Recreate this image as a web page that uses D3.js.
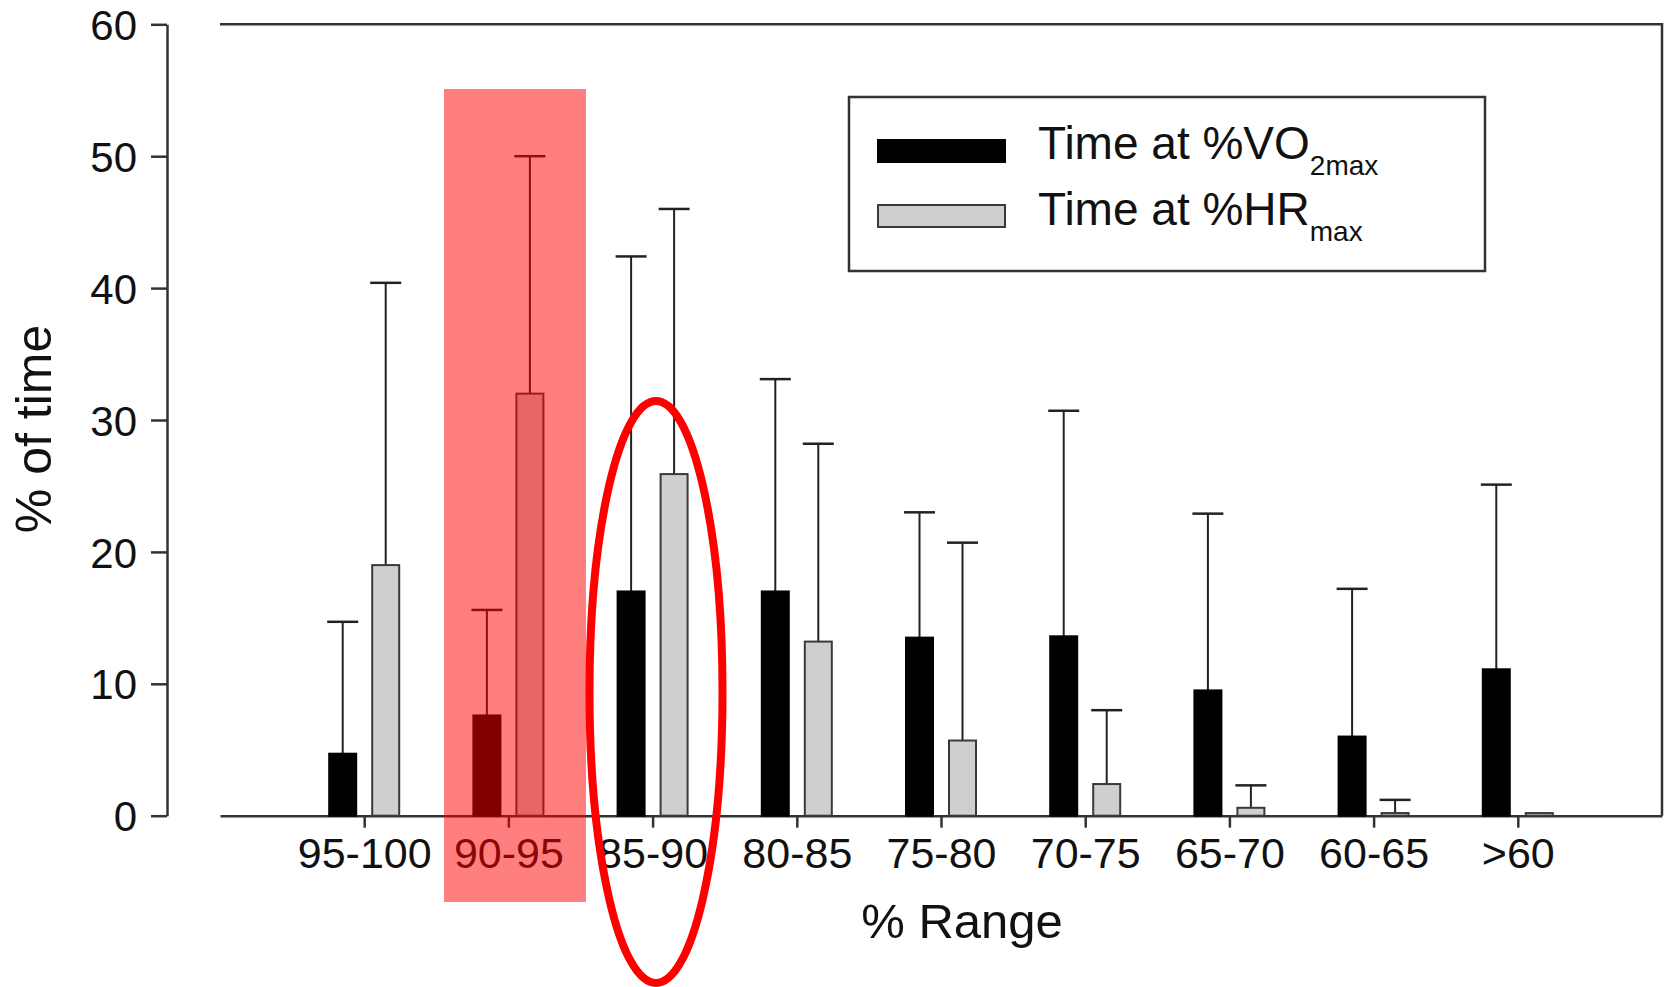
<!DOCTYPE html>
<html>
<head>
<meta charset="utf-8">
<script src="https://cdn.jsdelivr.net/npm/d3@7"></script>
<style>
  body { margin: 0; background: #fff; }
  text { font-family: "Liberation Sans", Arial, sans-serif; fill: #111; }
</style>
</head>
<body>
<div id="chart"></div>
<script>
var categories = ['95-100', '90-95', '85-90', '80-85', '75-80', '70-75', '65-70', '60-65', '>60'];
var vo2Mean = [4.7, 7.6, 17.0, 17.0, 13.5, 13.6, 9.5, 6.0, 11.1];
var vo2Sd = [10.0, 8.0, 25.4, 16.1, 9.5, 17.1, 13.4, 11.2, 14.0];
var hrMean = [19.0, 32.0, 25.9, 13.2, 5.7, 2.4, 0.6, 0.2, 0.2];
var hrSd = [21.4, 18.0, 20.1, 15.0, 15.0, 5.6, 1.7, 1.0, 0];
var yTicks = [0, 10, 20, 30, 40, 50, 60];

var width = 1669,
  height = 987;

var svg = d3.select('#chart')
  .append('svg')
  .attr('width', width)
  .attr('height', height);

var x = d3.scalePoint()
  .domain(categories)
  .range([220, 1662])
  .padding(1);

var y = d3.scaleLinear()
  .domain([0, 60])
  .range([815.7, 24.3]);

var barW = 27,
  offset = 21.5; // distance from tick to each bar's centre

var series = [
  { name: 'vo2', mean: vo2Mean, sd: vo2Sd, dx: -offset, fill: '#000', stroke: '#000' },
  { name: 'hr', mean: hrMean, sd: hrSd, dx: offset, fill: '#cfcfcf', stroke: '#3a3a3a' }
];

// y axis
var yAxis = svg.append('g')
  .attr('transform', 'translate(167,0)')
  .call(d3.axisLeft(y).tickValues(yTicks).tickSize(16).tickSizeOuter(0).tickPadding(14));
yAxis.selectAll('path, line').attr('stroke', '#333').attr('stroke-width', 2.5);
yAxis.selectAll('text')
  .attr('font-size', '42px')
  .attr('dy', '0.36em')
  .style('font-family', '"Liberation Sans", Arial, sans-serif')
  .attr('fill', '#111');

// x axis
var xAxis = svg.append('g')
  .attr('transform', 'translate(0,815.7)')
  .call(d3.axisBottom(x).tickSize(12).tickSizeOuter(0).tickPadding(10));
xAxis.selectAll('path, line').attr('stroke', '#333').attr('stroke-width', 2.5);
xAxis.selectAll('text')
  .attr('font-size', '43px')
  .attr('dy', '0.71em')
  .style('font-family', '"Liberation Sans", Arial, sans-serif')
  .attr('fill', '#111');

// frame top and right
svg.append('path')
  .attr('d', 'M220,' + y(60) + 'H1662V' + y(0))
  .attr('fill', 'none')
  .attr('stroke', '#333')
  .attr('stroke-width', 2.5);

// error bars (drawn first so bar tops cover the stem)
series.forEach(function(s) {
  var g = svg.append('g').attr('class', 'err-' + s.name);
  categories.forEach(function(c, i) {
    if (!s.sd[i]) return;
    var cx = x(c) + s.dx;
    var top = y(s.mean[i] + s.sd[i]);
    g.append('line')
      .attr('x1', cx).attr('x2', cx)
      .attr('y1', y(s.mean[i])).attr('y2', top)
      .attr('stroke', '#222').attr('stroke-width', 2);
    g.append('line')
      .attr('x1', cx - 15.5).attr('x2', cx + 15.5)
      .attr('y1', top).attr('y2', top)
      .attr('stroke', '#222').attr('stroke-width', 2.5);
  });
});

// bars
series.forEach(function(s) {
  svg.append('g')
    .selectAll('rect')
    .data(categories)
    .enter()
    .append('rect')
    .attr('x', function(d) { return x(d) + s.dx - barW / 2; })
    .attr('y', function(d, i) { return y(s.mean[i]); })
    .attr('width', barW)
    .attr('height', function(d, i) { return y(0) - y(s.mean[i]); })
    .attr('fill', s.fill)
    .attr('stroke', s.stroke)
    .attr('stroke-width', 2);
});

// axis titles
svg.append('text')
  .attr('x', 962)
  .attr('y', 938)
  .attr('text-anchor', 'middle')
  .attr('font-size', '49px')
  .text('% Range');

svg.append('text')
  .attr('transform', 'translate(51,429) rotate(-90)')
  .attr('text-anchor', 'middle')
  .attr('font-size', '50px')
  .text('% of time');

// legend
var legend = svg.append('g');
legend.append('rect')
  .attr('x', 849).attr('y', 97)
  .attr('width', 636).attr('height', 174)
  .attr('fill', '#fff')
  .attr('stroke', '#333')
  .attr('stroke-width', 2.5);

var legendRows = [
  { fill: '#000', stroke: '#000', y: 140, label: 'Time at %VO', sub: '2max', base: 159 },
  { fill: '#cfcfcf', stroke: '#3a3a3a', y: 205, label: 'Time at %HR', sub: 'max', base: 225 }
];
legendRows.forEach(function(r) {
  legend.append('rect')
    .attr('x', 878).attr('y', r.y)
    .attr('width', 127).attr('height', 22)
    .attr('fill', r.fill)
    .attr('stroke', r.stroke)
    .attr('stroke-width', 2);
  var t = legend.append('text')
    .attr('x', 1038)
    .attr('y', r.base)
    .attr('font-size', '46px');
  t.append('tspan').text(r.label);
  t.append('tspan')
    .attr('font-size', '28px')
    .attr('dy', 16)
    .text(r.sub);
});

// annotations: highlight box and ellipse
svg.append('rect')
  .attr('x', 444).attr('y', 89)
  .attr('width', 142).attr('height', 813)
  .attr('fill', '#ff0000')
  .attr('opacity', 0.5);

svg.append('ellipse')
  .attr('cx', 656).attr('cy', 692)
  .attr('rx', 66.5).attr('ry', 291)
  .attr('fill', 'none')
  .attr('stroke', '#ff0000')
  .attr('stroke-width', 8);
</script>
</body>
</html>
